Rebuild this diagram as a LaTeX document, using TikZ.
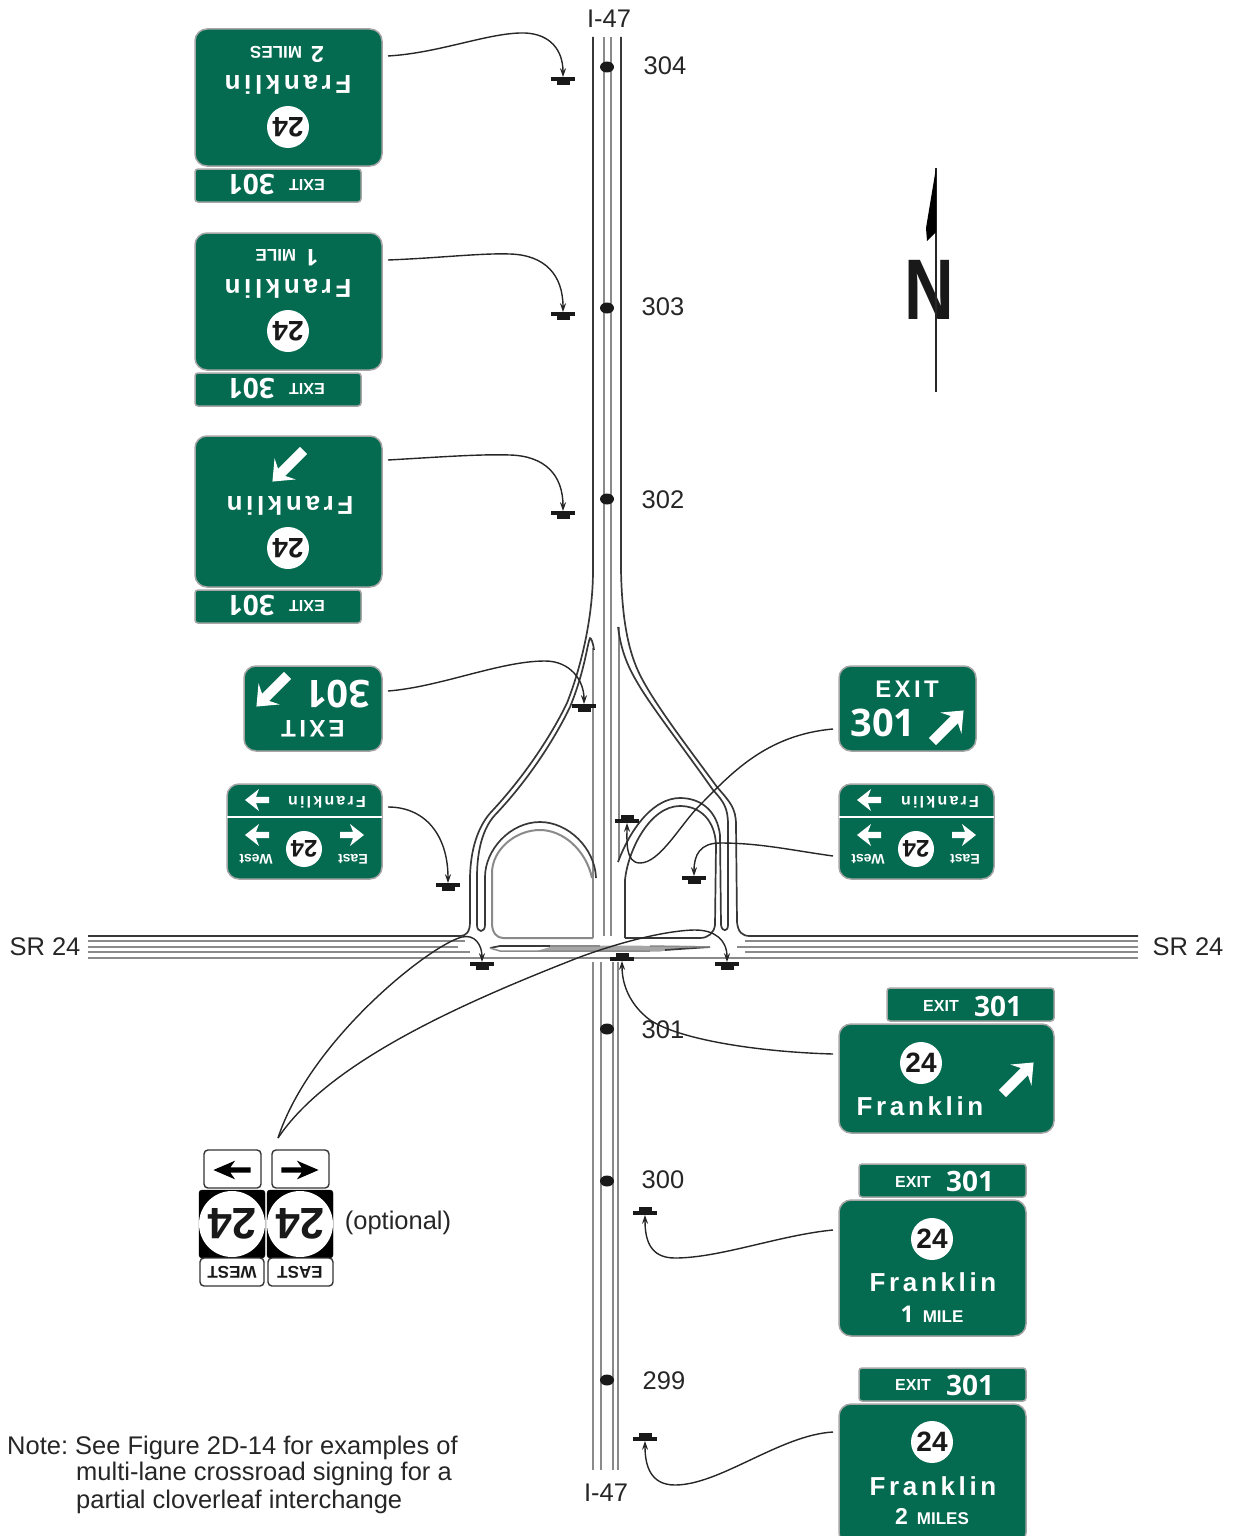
\documentclass[tikz,border=0pt]{standalone}
\usepackage{fontspec}
\setmainfont{Liberation Sans}
\newfontfamily\sgn[LetterSpace=14]{Liberation Sans}
\newfontfamily\numf{Open Sans}
\usetikzlibrary{arrows.meta,shapes.geometric}
\definecolor{signgreen}{HTML}{046A50}
\definecolor{roadgray}{HTML}{8A8A8A}
\tikzset{
  x=1pt,y=-1pt,
  gsign/.style={draw=black!35,line width=1.5pt,fill=signgreen,rounded corners=12pt,inner sep=0pt,outer sep=0pt},
  gtab/.style={gsign,rounded corners=3pt},
  wsign/.style={draw=black!80,line width=1.4pt,fill=white,rounded corners=4pt,inner sep=0pt,outer sep=0pt},
  ksign/.style={draw=black,fill=black,rounded corners=3pt,inner sep=0pt,outer sep=0pt},
  lbl/.style={text=black!85,font=\fontsize{25.5}{29}\selectfont,inner sep=0pt},
  sg/.style={text=white,font=\sgn\bfseries\fontsize{#1}{#1}\selectfont,inner sep=0pt},
  pl/.style={text=white,font=\bfseries\fontsize{#1}{#1}\selectfont,inner sep=0pt},
  nm/.style={text=white,font=\numf\bfseries\fontsize{#1}{#1}\selectfont,inner sep=0pt},
  kt/.style={text=black!90,font=\bfseries\fontsize{#1}{#1}\selectfont,inner sep=0pt},
  shield/.style={circle,fill=white,inner sep=0pt,outer sep=0pt,minimum size=#1pt},
  road/.style={draw=roadgray,line width=2pt},
  ramp/.style={draw=black!78,line width=1.7pt,line join=round},
  conn/.style={draw=black!85,line width=1.4pt,-{Stealth[length=9pt,width=6pt]}},
  postbar/.style={fill=black!90,minimum width=24pt,minimum height=3.6pt,inner sep=0pt,outer sep=0pt},
  postfoot/.style={fill=black!90,minimum width=13pt,minimum height=4.5pt,inner sep=0pt,outer sep=0pt},
  mile/.style={ellipse,fill=black!90,minimum width=14pt,minimum height=11pt,inner sep=0pt},
  pics/bigarr/.style={code={\path[pic actions] (-22,-5)--(9,-5)--(4,-15)--(22,0)--(4,15)--(9,5)--(-22,5)--cycle;}},
  pics/smallarr/.style={code={\path[pic actions] (-12,-3.2)--(1,-3.2)--(-2,-11)--(12,0)--(-2,11)--(1,3.2)--(-12,3.2)--cycle;}},
}
\newcommand\SignBox[6]{\node[#1,minimum width={(#5-#3)*1pt},minimum height={(#6-#4)*1pt}] (#2) at ({(#3+#5)/2},{(#4+#6)/2}) {};}
\newcommand\PostDown[3]{\node[postbar] (#1) at (#2,#3) {};\node[postfoot,anchor=north] (#1f) at (#1.south) {};}
\newcommand\PostUp[3]{\node[postbar] (#1) at (#2,#3) {};\node[postfoot,anchor=south] (#1f) at (#1.north) {};}
\begin{document}
\begin{tikzpicture}
\clip (0,0) rectangle (1236,1536);
% ---------- roads ----------
\draw[road] (604,37)--(604,936);
\draw[road] (611,37)--(611,936);
\draw[road] (593,962)--(593,1470);
\draw[road] (601,962)--(601,1470);
\draw[road] (613,962)--(613,1470);
\draw[road] (618,962)--(618,1470);
\draw[road] (593,648)--(593,938);
\draw[road] (619,627)--(619,860);
\draw[road] (88,941)--(465,941);
\draw[road] (88,947)--(458,947);
\draw[road] (88,952)--(470,952);
\draw[road] (88,957.5)--(1138,957.5);
\draw[road] (745,941)--(1138,941);
\draw[road] (737,947)--(1138,947);
\draw[road] (745,952)--(1138,952);
\fill[black!35] (550,947)--(590,945.5)--(700,946)--(660,951.5)--(535,951.5)--cycle;
\draw[ramp] (490,948)--(500,946)--(550,946);
\draw[road,line width=1.5pt] (550,946)--(600,946);
\draw[road,line width=1.5pt] (490,948)--(500,951)--(650,951);
\draw[ramp] (665,950)--(710,947);
\draw[road,line width=1.5pt] (650,946)--(710,947);
% left ramp
\draw[ramp] (593,37)--(593,570) .. controls (593,620) and (580,670) .. (567,703)
  .. controls (555,728) and (530,770) .. (493,810)
  .. controls (478,825) and (470,850) .. (470,880)--(470,922)
  .. controls (470,932) and (466,936) .. (460,936)--(88,936);
\draw[ramp] (594,650) .. controls (593,642) and (591,638) .. (590,638)
  .. controls (587,645) and (585,670) .. (570,707)
  .. controls (558,732) and (533,775) .. (495,815)
  .. controls (483,828) and (477,850) .. (477,877)--(477,925)
  .. controls (477,933) and (485,933) .. (485,925)--(485,877)
  .. controls (485,850) and (510,822) .. (540,822)
  .. controls (568,822) and (595,848) .. (596,878);
\draw[road] (492,923)--(492,873) .. controls (492,850) and (515,830) .. (540,830)
  .. controls (563,830) and (586,850) .. (592,878);
\draw[road] (492,923) .. controls (492,933) and (497,938) .. (503,938)--(593,938);
% right ramp
\draw[ramp] (621,37)--(621,570) .. controls (622,625) and (630,655) .. (640,675)
  .. controls (655,705) and (690,750) .. (717,787)
  .. controls (730,802) and (736,808) .. (736,825)--(737,922)
  .. controls (738,932) and (742,936) .. (750,936)--(1138,936);
\draw[ramp] (618,627) .. controls (621,650) and (627,665) .. (637,682)
  .. controls (650,705) and (685,750) .. (713,790)
  .. controls (724,802) and (728,808) .. (728,825)--(728,925)
  .. controls (728,932) and (722,932) .. (721,925)--(720,835)
  .. controls (717,810) and (700,798) .. (680,798)
  .. controls (655,798) and (632,825) .. (618,862);
\draw[ramp] (625,938)--(625,880) .. controls (628,850) and (650,806) .. (680,806)
  .. controls (700,806) and (715,820) .. (716,845)--(715,925)
  .. controls (714,933) and (708,938) .. (700,938)--(625,938);
% ---------- mile posts ----------
\node[mile] (m304) at (607,67) {};
\node[mile] (m303) at (607,308) {};
\node[mile] (m302) at (607,499) {};
\node[mile] (m301) at (607,1029) {};
\node[mile] (m300) at (607,1181) {};
\node[mile] (m299) at (607,1380) {};
\node[lbl] (t304) at (665,66) {304};
\node[lbl] (t303) at (663,307) {303};
\node[lbl] (t302) at (663,500) {302};
\node[lbl] (t301) at (663,1030) {301};
\node[lbl] (t300) at (663,1180) {300};
\node[lbl] (t299) at (664,1381) {299};
\node[lbl] (i47a) at (609,19) {I-47};
\node[lbl] (i47b) at (606,1493) {I-47};
\node[lbl] (srl) at (45,947) {SR 24};
\node[lbl] (srr) at (1188,947) {SR 24};
% ---------- sign supports ----------
\PostDown{p304}{563}{79}
\PostDown{p303}{563}{314}
\PostDown{p302}{563}{513}
\PostDown{pexl}{584}{706}
\PostDown{pfrl}{448}{885}
\PostDown{pbl}{482}{964}
\PostDown{pbr}{727}{964}
\PostDown{pfrr}{694}{878}
\PostUp{pexr}{627}{821}
\PostUp{p301}{622}{959}
\PostUp{p300}{645}{1213}
\PostUp{p299}{645}{1439}
% ---------- left signs, seen from behind (upside down) ----------
\SignBox{gsign}{s304}{195}{29}{382}{166}
\SignBox{gtab}{e304}{195}{169}{361}{202}
\node[shield=42] (c304) at (288,127) {};
\node[kt=28,rotate=180] (n304) at (288,127) {24};
\node[sg=26,rotate=180] (f304) at (288,85) {Franklin};
\node[pl=17,rotate=180] (d304) at (287,54) {{\fontsize{23}{23}\selectfont 2}\hspace{9pt}MILES};
\node[pl=16,rotate=180] (x304) at (307,185) {EXIT};
\node[nm=28,rotate=180] (y304) at (251,185) {301};

\SignBox{gsign}{s303}{195}{233}{382}{370}
\SignBox{gtab}{e303}{195}{373}{361}{406}
\node[shield=42] (c303) at (288,331) {};
\node[kt=28,rotate=180] (n303) at (288,331) {24};
\node[sg=26,rotate=180] (f303) at (288,289) {Franklin};
\node[pl=17,rotate=180] (d303) at (287,258) {{\numf\fontsize{23}{23}\selectfont 1}\hspace{9pt}MILE};
\node[pl=16,rotate=180] (x303) at (307,389) {EXIT};
\node[nm=28,rotate=180] (y303) at (251,389) {301};

\SignBox{gsign}{s302}{195}{436}{382}{587}
\SignBox{gtab}{e302}{195}{590}{361}{623}
\node[shield=42] (c302) at (288,548) {};
\node[kt=28,rotate=180] (n302) at (288,548) {24};
\node[sg=26,rotate=180] (f302) at (290,506) {Franklin};
\pic[fill=white,rotate=225] at (288,466) {bigarr};
\node[pl=16,rotate=180] (x302) at (307,606) {EXIT};
\node[nm=28,rotate=180] (y302) at (251,606) {301};

\SignBox{gsign}{sexl}{244}{666}{382}{751}
\node[nm=38,rotate=180] (yexl) at (338,694) {301};
\node[sg=24,rotate=180] (xexl) at (313,729) {EXIT};
\pic[fill=white,rotate=225] at (272,691) {bigarr};

\SignBox{gsign}{sfrl}{227}{784}{382}{879}
\draw[white,line width=2.2pt] (sfrl.west |- 0,817)--(sfrl.east |- 0,817);
\node[sg=16,rotate=180] (ffrl) at (327,802) {Franklin};
\pic[fill=white,rotate=180] at (257,800) {smallarr};
\pic[fill=white,rotate=180] at (257,835) {smallarr};
\pic[fill=white] at (352,835) {smallarr};
\node[shield=36] (cfrl) at (304,849) {};
\node[kt=24,rotate=180] (nfrl) at (304,849) {24};
\node[pl=14,rotate=180] (wfrl) at (256,859) {West};
\node[pl=14,rotate=180] (efrl) at (353,859) {East};
% ---------- right signs ----------
\SignBox{gsign}{sexr}{839}{666}{976}{751}
\node[sg=24] (xexr) at (907,689) {EXIT};
\node[nm=38] (yexr) at (883,723) {301};
\pic[fill=white,rotate=45] at (948,726) {bigarr};

\SignBox{gsign}{sfrr}{839}{784}{994}{879}
\draw[white,line width=2.2pt] (sfrr.west |- 0,817)--(sfrr.east |- 0,817);
\node[sg=16,rotate=180] (ffrr) at (940,802) {Franklin};
\pic[fill=white,rotate=180] at (869,800) {smallarr};
\pic[fill=white,rotate=180] at (869,835) {smallarr};
\pic[fill=white] at (964,835) {smallarr};
\node[shield=36] (cfrr) at (916,849) {};
\node[kt=24,rotate=180] (nfrr) at (916,849) {24};
\node[pl=14,rotate=180] (wfrr) at (868,859) {West};
\node[pl=14,rotate=180] (efrr) at (965,859) {East};

\SignBox{gtab}{e301}{887}{988}{1054}{1021}
\SignBox{gsign}{s301}{839}{1024}{1054}{1133}
\node[pl=16] (x301) at (941,1006) {EXIT};
\node[nm=28] (y301) at (998,1006) {301};
\node[shield=42] (c301) at (921,1063) {};
\node[kt=28] (n301) at (921,1063) {24};
\node[sg=26] (f301) at (920,1106) {Franklin};
\pic[fill=white,rotate=45] at (1018,1078) {bigarr};

\SignBox{gtab}{e300}{859}{1164}{1026}{1197}
\SignBox{gsign}{s300}{839}{1200}{1026}{1336}
\node[pl=16] (x300) at (913,1182) {EXIT};
\node[nm=28] (y300) at (970,1181) {301};
\node[shield=42] (c300) at (932,1239) {};
\node[kt=28] (n300) at (932,1239) {24};
\node[sg=26] (f300) at (933,1282) {Franklin};
\node[pl=17] (d300) at (932,1314) {{\numf\fontsize{23}{23}\selectfont 1}\hspace{9pt}MILE};

\SignBox{gtab}{e299}{859}{1368}{1026}{1401}
\SignBox{gsign}{s299}{839}{1404}{1026}{1545}
\node[pl=16] (x299) at (913,1385) {EXIT};
\node[nm=28] (y299) at (970,1385) {301};
\node[shield=42] (c299) at (932,1442) {};
\node[kt=28] (n299) at (932,1442) {24};
\node[sg=26] (f299) at (933,1486) {Franklin};
\node[pl=17] (d299) at (932,1517) {{\fontsize{23}{23}\selectfont 2}\hspace{9pt}MILES};
% ---------- optional assembly ----------
\SignBox{wsign}{awest}{204}{1150}{261}{1188}
\SignBox{wsign}{aeast}{272}{1150}{329}{1188}
\pic[fill=black,rotate=180,xscale=1.55,yscale=.85] at (232,1170) {smallarr};
\pic[fill=black,xscale=1.55,yscale=.85] at (300,1170) {smallarr};
\SignBox{ksign}{bwest}{199}{1190}{265}{1258}
\SignBox{ksign}{beast}{267}{1190}{333}{1258}
\node[shield=66] (cwest) at (232,1224) {};
\node[shield=66] (ceast) at (300,1224) {};
\node[kt=44,rotate=180] (nwest) at (232,1224) {24};
\node[kt=44,rotate=180] (neast) at (300,1224) {24};
\SignBox{wsign}{lwest}{200}{1258}{264}{1286}
\SignBox{wsign}{least}{268}{1258}{333}{1286}
\node[kt=17,rotate=180] (twest) at (232,1272) {WEST};
\node[kt=17,rotate=180] (teast) at (300,1272) {EAST};
\node[lbl] (opt) at (398,1223) {(optional)};
% ---------- connectors ----------
\coordinate (a304) at (388,56);
\coordinate (a303) at (388,260);
\coordinate (a302) at (388,460);
\coordinate (aexl) at (388,691);
\coordinate (afrl) at (388,807);
\coordinate (aexr) at (833,729);
\coordinate (afrr) at (833,856);
\coordinate (a301) at (833,1054);
\coordinate (a300) at (833,1230);
\coordinate (a299) at (833,1432);
\coordinate (aopt) at (278,1138);
\draw[conn] (a304) .. controls (440,53) and (490,32) .. (525,33) .. controls (550,34) and (563,50) .. (p304.north);
\draw[conn] (a303) .. controls (440,258) and (480,253) .. (510,254) .. controls (545,255) and (563,275) .. (p303.north);
\draw[conn] (a302) .. controls (440,457) and (480,454) .. (510,455) .. controls (545,456) and (563,475) .. (p302.north);
\draw[conn] (aexl) .. controls (440,687) and (500,661) .. (545,661) .. controls (570,661) and (584,680) .. (pexl.north);
\draw[conn] (afrl) .. controls (425,807) and (448,835) .. (pfrl.north);
\draw[conn] (aexr) .. controls (765,735) and (730,775) .. (700,805) .. controls (680,825) and (660,863) .. (640,863) .. controls (625,863) and (627,840) .. (pexr.south);
\draw[conn] (afrr) .. controls (790,850) and (760,843) .. (720,843) .. controls (700,843) and (694,855) .. (pfrr.north);
\draw[conn] (a301) .. controls (760,1052) and (680,1040) .. (650,1020) .. controls (630,1005) and (622,985) .. (p301.south);
\draw[conn] (a300) .. controls (780,1235) and (720,1258) .. (675,1258) .. controls (650,1258) and (645,1240) .. (p300.south);
\draw[conn] (a299) .. controls (780,1435) and (720,1485) .. (675,1485) .. controls (650,1485) and (645,1465) .. (p299.south);
\draw[conn] (aopt) .. controls (310,1040) and (430,945) .. (462,937) .. controls (475,934) and (482,945) .. (pbl.north);
\draw[conn] (aopt) .. controls (330,1060) and (470,1000) .. (580,957) .. controls (640,935) and (680,930) .. (695,930) .. controls (715,930) and (727,940) .. (pbr.north);
% ---------- north arrow ----------
\node[text=black!90,font=\bfseries\fontsize{86}{86}\selectfont,inner sep=0pt] (north) at (929,290) {\scalebox{.8}[1]{N}};
\coordinate (ntop) at (936,168);
\coordinate (nbot) at (936,392);
\draw[black!85,line width=1.3pt] (ntop)--(nbot);
\fill[black] (ntop)--(926,228)--(927,241)--(936,232)--cycle;
% ---------- note ----------
\node[lbl,anchor=west] (note1) at (7,1448) {Note:\hspace{-2.5pt} See Figure 2D-14 for examples of};
\node[lbl,anchor=west] (note2) at (76,1474) {multi-lane crossroad signing for a};
\node[lbl,anchor=west] (note3) at (76,1502) {partial cloverleaf interchange};
\end{tikzpicture}
\end{document}
